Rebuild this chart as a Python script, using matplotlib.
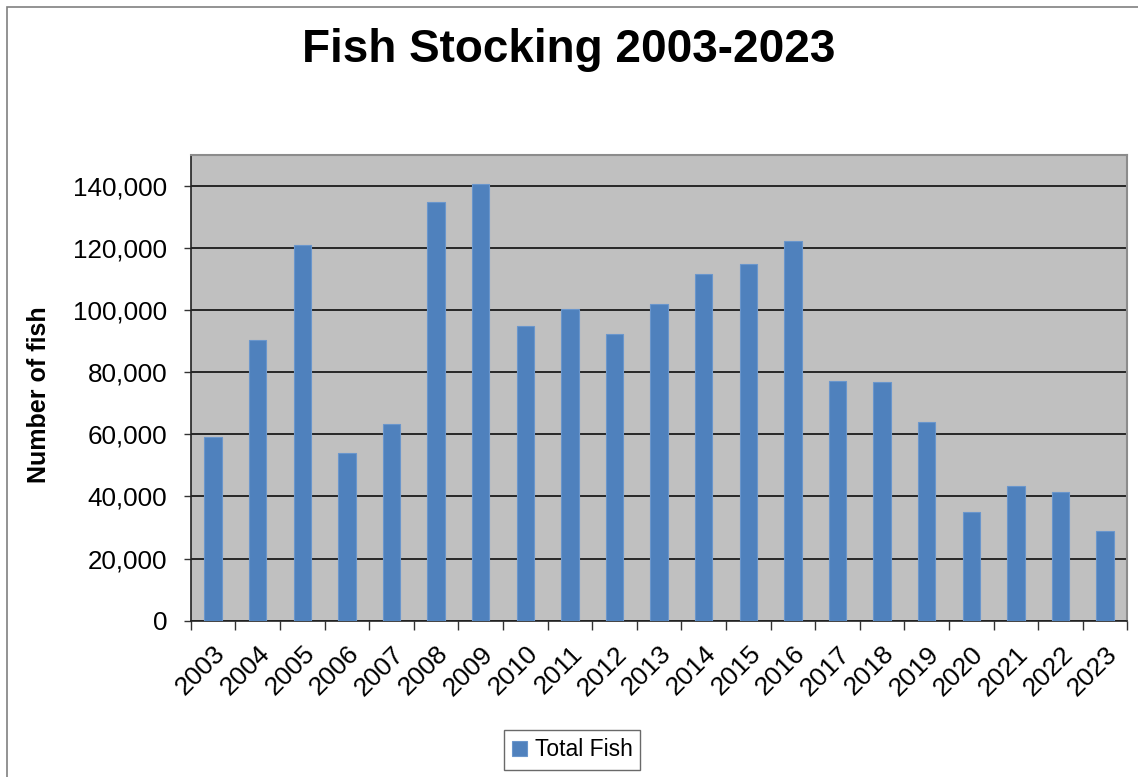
import matplotlib
matplotlib.use("Agg")
import matplotlib.pyplot as plt
from matplotlib.patches import Rectangle
from matplotlib.ticker import FuncFormatter

plt.rcParams['font.family'] = ['Liberation Sans', 'DejaVu Sans']

# ........................ Stocking data ........................
years = [str(y) for y in range(2003, 2024)]
total_fish = [59000, 90200, 121000, 54100, 63200, 134800, 140500,
              94800, 100300, 92200, 101900, 111700, 114800, 122100,
              77200, 77000, 64000, 34900, 43500, 41500, 28800]

bar_color = '#4F81BD'
plot_bg = '#C0C0C0'

fig = plt.figure(figsize=(11.38, 7.77), dpi=100)
ax = fig.add_axes([0.1676, 0.2011, 0.8230, 0.5998])

# outer chart frame (left and top edges visible)
fig.patches.append(Rectangle((7 / 1138, -0.05), 1.2, 1 - 7 / 777 + 0.05,
                             transform=fig.transFigure, fill=False,
                             edgecolor='#808080', linewidth=1.2))

x = range(len(years))
ax.bar(x, total_fish, width=0.39, color=bar_color, edgecolor='#6A96CC',
       linewidth=0.8, label='Total Fish', zorder=3)

ax.set_facecolor(plot_bg)
ax.set_xlim(-0.5, len(years) - 0.5)
ax.set_ylim(0, 150000)
ax.set_yticks(range(0, 140001, 20000))
ax.yaxis.set_major_formatter(FuncFormatter(lambda v, p: f"{int(v):,}"))
ax.grid(axis='y', color='#1a1a1a', linewidth=1.3, zorder=1)

# category ticks sit between the bars, labels under each bar
ax.set_xticks([i - 0.5 for i in range(len(years) + 1)], minor=False)
ax.set_xticklabels([])
ax.set_xticks(list(x), minor=True)
ax.set_xticklabels(years, minor=True, rotation=45, ha='right',
                   rotation_mode='anchor', fontsize=19)
ax.tick_params(axis='x', which='minor', length=0, pad=15)
ax.tick_params(axis='x', which='major', length=6.5, width=1, color='#333333',
               direction='out')
ax.tick_params(axis='y', length=5, width=1, color='#333333', labelsize=18.7,
               pad=12)

for side in ('left', 'bottom'):
    ax.spines[side].set_color('#222222')
    ax.spines[side].set_linewidth(1.2)
for side in ('top', 'right'):
    ax.spines[side].set_color('#8c8c8c')
    ax.spines[side].set_linewidth(1.5)

fig.text(0.5, 1 - 50 / 777, 'Fish Stocking 2003-2023', ha='center',
         va='center', fontsize=33, fontweight='bold')
fig.text(39 / 1138, 1 - 395 / 777, 'Number of fish', rotation=90,
         ha='center', va='center', fontsize=18, fontweight='bold')

leg = fig.legend(loc='center', bbox_to_anchor=(572 / 1138, 1 - 750 / 777),
                 fontsize=16.5, frameon=True, fancybox=False,
                 handlelength=0.65, handleheight=0.65, handletextpad=0.35,
                 borderpad=0.35, borderaxespad=0)
leg.get_frame().set_edgecolor('#444444')
leg.get_frame().set_linewidth(1.0)

fig.savefig('out.png', dpi=100, facecolor='white')
